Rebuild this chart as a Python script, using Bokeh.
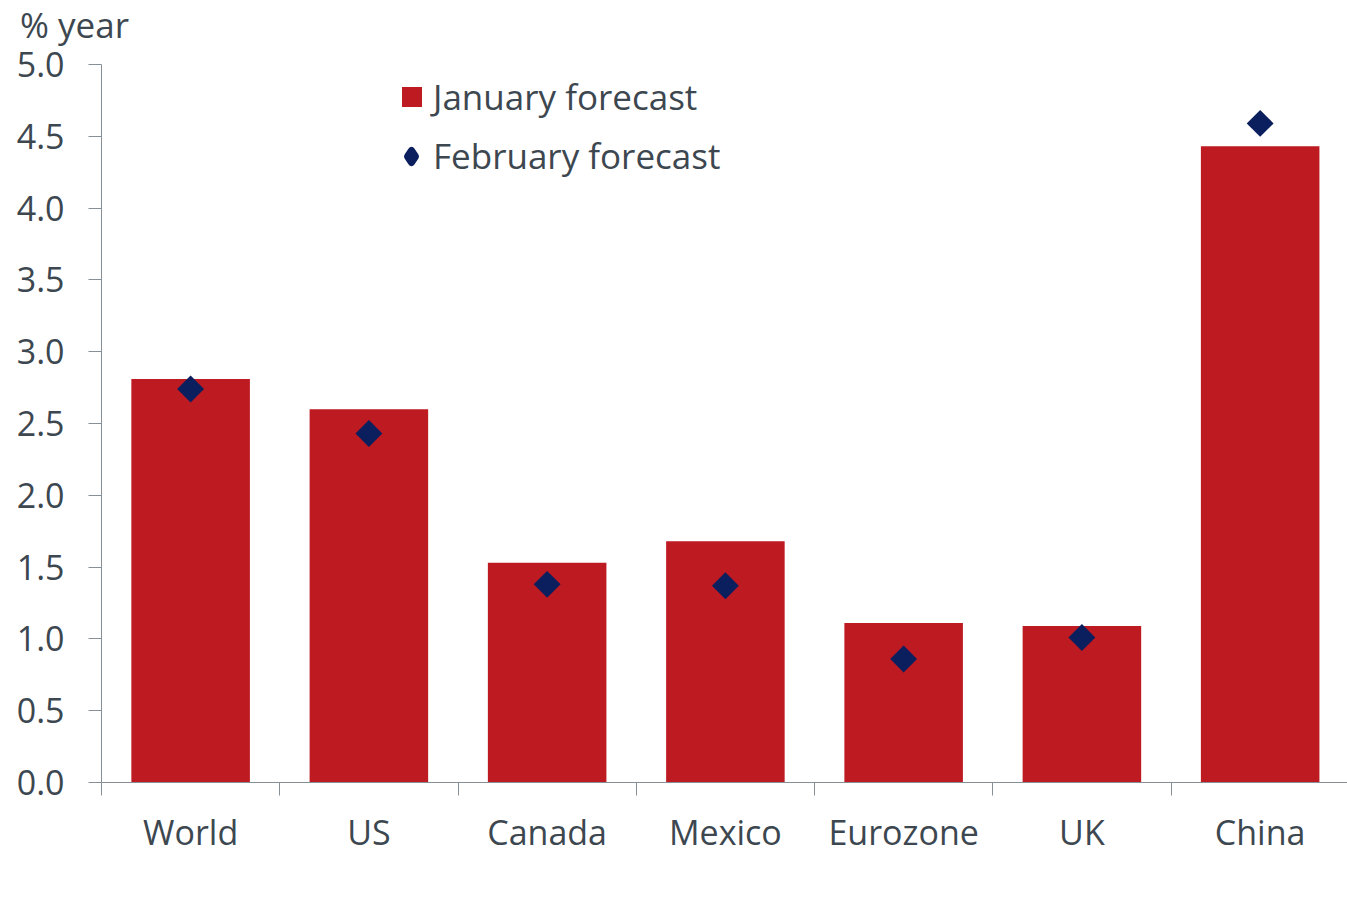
import math
from bokeh.plotting import figure
from bokeh.layouts import column
from bokeh.models import ColumnDataSource, FixedTicker, Legend, LegendItem, NumeralTickFormatter, Div
from bokeh.embed import file_html
from bokeh.resources import INLINE

categories = ["World", "US", "Canada", "Mexico", "Eurozone", "UK", "China"]
january = [2.81, 2.60, 1.53, 1.68, 1.11, 1.09, 4.43]
february = [2.74, 2.43, 1.38, 1.37, 0.86, 1.01, 4.59]
y_ticks = [0.0, 0.5, 1.0, 1.5, 2.0, 2.5, 3.0, 3.5, 4.0, 4.5, 5.0]
y_unit = "% year"

n = len(categories)
centers = [i + 0.5 for i in range(n)]
bounds = [float(i) for i in range(n + 1)]
src = ColumnDataSource(dict(x=centers, jan=january, feb=february, cat=categories))

FONT = "Open Sans"
TXT = "#3d4750"
AX = "#868e96"
RED = "#be1a22"
NAVY = "#0b1f5e"

head = Div(text=y_unit, width=1347, height=48, margin=(0, 0, 0, 0),
           styles={"font-family": "'Open Sans'", "font-size": "35px", "color": TXT,
                   "line-height": "1", "padding-left": "20px", "padding-top": "7px",
                   "box-sizing": "border-box", "background": "white", "overflow": "visible"})

p = figure(width=1347, height=850, x_range=(0, n - 0.01), y_range=(0, 5),
           output_backend="svg", toolbar_location=None,
           min_border_left=101, min_border_right=0, min_border_bottom=116, min_border_top=16)
p.outline_line_color = None
p.xgrid.grid_line_color = None
p.ygrid.grid_line_color = None
p.background_fill_color = "white"
p.border_fill_color = "white"

bars = p.vbar(x="x", top="jan", width=0.665, source=src, fill_color=RED, line_color=None)
pts = p.scatter(x="x", y="feb", source=src, marker="square", size=19, angle=math.pi / 4,
                fill_color=NAVY, line_color=None)
# legend-only twin of the February markers (legend markers are drawn unrotated)
pts_key = p.scatter(x="x", y="feb", source=src, marker="diamond", size=19,
                    fill_color=NAVY, line_color=NAVY, line_width=7, line_join="round",
                    visible=False)

xa = p.xaxis[0]
xa.ticker = FixedTicker(ticks=centers, minor_ticks=bounds)
xa.major_label_overrides = {c: cat for c, cat in zip(centers, categories)}
xa.major_tick_out = 0
xa.major_tick_in = 0
xa.minor_tick_out = 13
xa.minor_tick_in = 0
xa.minor_tick_line_color = AX
xa.axis_line_color = AX
xa.major_label_text_font = FONT
xa.major_label_text_font_size = "34px"
xa.major_label_text_color = TXT
xa.major_label_standoff = 13

ya = p.yaxis[0]
ya.ticker = FixedTicker(ticks=y_ticks)
ya.formatter = NumeralTickFormatter(format="0.0")
ya.major_tick_out = 13
ya.major_tick_in = 0
ya.minor_tick_out = 0
ya.minor_tick_in = 0
ya.major_tick_line_color = AX
ya.axis_line_color = AX
ya.major_label_text_font = FONT
ya.major_label_text_font_size = "34px"
ya.major_label_text_color = TXT
ya.major_label_standoff = 24


def make_legend(item, loc, glyph, standoff):
    lg = Legend(items=[item], location=loc, orientation="vertical")
    lg.padding = 0
    lg.margin = 0
    lg.border_line_color = None
    lg.background_fill_alpha = 0
    lg.glyph_width = glyph
    lg.glyph_height = glyph
    lg.label_height = 30
    lg.spacing = 0
    lg.label_standoff = standoff
    lg.label_text_font = FONT
    lg.label_text_font_size = "35px"
    lg.label_text_color = TXT
    return lg


p.add_layout(make_legend(LegendItem(label="January forecast", renderers=[bars]), (298, 662), 25, 9), "center")
p.add_layout(make_legend(LegendItem(label="February forecast", renderers=[pts_key]), (295, 603), 30, 7), "center")

layout = column(head, p, spacing=0)
open("out.html", "w").write(file_html(layout, INLINE))
